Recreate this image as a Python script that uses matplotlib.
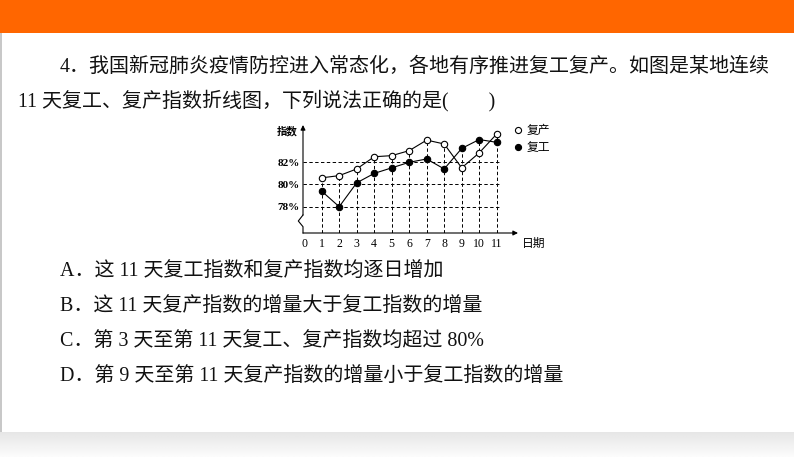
import matplotlib
matplotlib.use('Agg')
import matplotlib.pyplot as plt
import numpy as np
from matplotlib.patches import Rectangle
from matplotlib.lines import Line2D

# ---------------- data ----------------
days = list(range(1, 12))
fuchan = [80.6, 80.8, 81.4, 82.5, 82.6, 83.05, 84.0, 83.65, 81.5, 82.85, 84.55]   # 复产
fugong = [79.4, 78.0, 80.15, 81.0, 81.5, 82.0, 82.3, 81.4, 83.25, 84.05, 83.8]    # 复工
series_names = ['复产', '复工']
ytick_vals = [78, 80, 82]
ytick_labels = ['78%', '80%', '82%']
xtick_vals = list(range(0, 12))
xtick_labels = [str(v) for v in xtick_vals]
y_title = '指数'
x_title = '日期'
question = ['4．我国新冠肺炎疫情防控进入常态化，各地有序推进复工复产。如图是某地连续',
            '11 天复工、复产指数折线图，下列说法正确的是(\u3000\u3000)']
options = ['A．这 11 天复工指数和复产指数均逐日增加',
           'B．这 11 天复产指数的增量大于复工指数的增量',
           'C．第 3 天至第 11 天复工、复产指数均超过 80%',
           'D．第 9 天至第 11 天复产指数的增量小于复工指数的增量']

W, H = 794, 457
FAM = ['Liberation Serif', 'Noto Sans CJK SC', 'DejaVu Sans']
plt.rcParams['font.family'] = FAM

fig = plt.figure(figsize=(W / 100, H / 100), dpi=100)

# ---------------- slide background ----------------
bg = fig.add_axes([0, 0, 1, 1])
bg.axis('off')
bg.add_patch(Rectangle((0, 0), W, 33, color='#FF6600', lw=0))
grad = np.linspace(0.90, 0.985, 25)[:, None] * np.ones((1, 4))
bg.imshow(grad, cmap='gray', vmin=0, vmax=1, extent=(0, W, 457, 432), aspect='auto', interpolation='bilinear')
bg.add_patch(Rectangle((0, 33), 1.5, 399, color='#c8c8c8', lw=0))
bg.set_xlim(0, W)
bg.set_ylim(H, 0)

txt_fs = 14.4
bg.text(60, 67, question[0], fontsize=txt_fs, va='center', ha='left', color='#111111')
bg.text(18, 101, question[1], fontsize=txt_fs, va='center', ha='left', color='#111111')
for i, opt in enumerate(options):
    bg.text(60, 271 + i * 35.3, opt, fontsize=txt_fs, va='center', ha='left', color='#111111')

# ---------------- chart ----------------
px_day = 17.5
x0_px = 304.2
left_px, right_px, top_px, bot_px = 303, 518, 125, 233
px_pct = 11.1
y82_px = 162.3
ax = fig.add_axes([left_px / W, 1 - bot_px / H, (right_px - left_px) / W, (bot_px - top_px) / H])
ax.set_facecolor('none')
xl = ((left_px - x0_px) / px_day, (right_px - x0_px) / px_day)
yl = (82 - (bot_px - y82_px) / px_pct, 82 + (y82_px - top_px) / px_pct)
ax.set_xlim(*xl)
ax.set_ylim(*yl)
for s in ax.spines.values():
    s.set_visible(False)

dash = (0, (3.5, 2.5))
ax.hlines(ytick_vals, xl[0], 11.25, colors='k', linestyles=dash, lw=0.7, zorder=1)
tops = [max(a, b) for a, b in zip(fuchan, fugong)]
ax.vlines(days, yl[0], tops, colors='k', linestyles=dash, lw=0.7, zorder=1)

ax.plot(days, fuchan, color='k', lw=0.8, marker='o', ms=4.6, mfc='white', mec='k', mew=0.8, zorder=4)
ax.plot(days, fugong, color='k', lw=0.8, marker='o', ms=4.6, mfc='k', mec='k', mew=0.8, zorder=4)

# axes with arrows and break
ax.annotate('', xy=(1, 0), xytext=(0, 0), xycoords='axes fraction',
            arrowprops=dict(arrowstyle='-|>', lw=0.8, color='k', mutation_scale=7, shrinkA=0, shrinkB=0))
yb_top = 82 - (215 - y82_px) / px_pct
yb_mid = 82 - (221 - y82_px) / px_pct
yb_bot = 82 - (226.7 - y82_px) / px_pct
xb = xl[0]
ax.plot([xb, xb, (298.3 - x0_px) / px_day, xb, xb], [yl[0], yb_bot, yb_mid, yb_top, yb_top],
        color='k', lw=0.8, clip_on=False, zorder=3)
ax.annotate('', xy=(xb, yl[1]), xytext=(xb, yb_top),
            arrowprops=dict(arrowstyle='-|>', lw=0.8, color='k', mutation_scale=7, shrinkA=0, shrinkB=0),
            annotation_clip=False)

ax.set_xticks(xtick_vals, xtick_labels)
ax.set_yticks(ytick_vals, ytick_labels)
ax.tick_params(axis='both', length=0)
ax.tick_params(axis='x', pad=3.5, labelsize=8.5)
ax.tick_params(axis='y', pad=2.5, labelsize=8)
for t in ax.get_yticklabels():
    t.set_fontweight('bold')

bg.text(287, 131, y_title, fontsize=7.5, ha='center', va='center', fontweight='bold')
bg.text(534, 244, x_title, fontsize=8.5, ha='center', va='center')

handles = [Line2D([], [], ls='none', marker='o', ms=4.4, mfc='white', mec='k', mew=0.8),
           Line2D([], [], ls='none', marker='o', ms=4.4, mfc='k', mec='k', mew=0.8)]
fig.legend(handles, series_names, loc='upper left', bbox_to_anchor=(514 / W, 1 - 125 / H),
           frameon=False, fontsize=8.5, handlelength=0.6, handletextpad=0.5,
           labelspacing=0.45, borderpad=0, borderaxespad=0)

fig.savefig('out.png', dpi=100)
